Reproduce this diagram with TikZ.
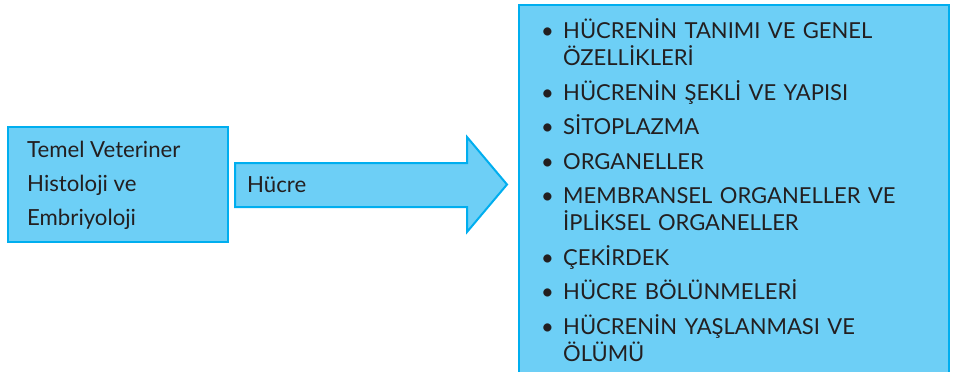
\documentclass[tikz,border=0pt]{standalone}
\usepackage{fontspec}
\setmainfont{Lato}
\definecolor{acikmavi}{HTML}{6DCFF6}
\definecolor{koyumavi}{HTML}{00AEEF}
\definecolor{yazi}{HTML}{231F20}
\tikzset{
	kutu/.style={draw=koyumavi, fill=acikmavi, line width=2pt},
	yazi/.style={text=yazi, font=\fontsize{22.2}{34}\selectfont},
}
% list with bullets at the left edge
\newenvironment{konulistesi}{%
	\begin{list}{\textbullet}{%
		\setlength{\leftmargin}{22pt}%
		\setlength{\labelwidth}{22pt}%
		\setlength{\labelsep}{0pt}%
		\setlength{\itemsep}{7.5pt}%
		\setlength{\parsep}{0pt}%
		\setlength{\topsep}{0pt}%
		\setlength{\partopsep}{0pt}%
		\renewcommand{\makelabel}[1]{##1\hfil}}%
	\fontsize{22}{27}\selectfont}{\end{list}}

\begin{document}
\begin{tikzpicture}[x=1pt, y=-1pt]
		\useasboundingbox (0,0) rectangle (954,372);
		\clip (0,0) rectangle (954,372);

		% left box (text anchored on its last line)
		\node [kutu, anchor=north west, minimum width=220pt, minimum height=115pt] (temel) at (7,126) {};
		\node [yazi, anchor=base west, inner sep=0pt, align=left] (temelyazi) at (27,225) {Temel Veteriner\\Histoloji ve\\Embriyoloji};

		% arrow
		\draw [kutu] (235,163) -- (467,163) -- (467,137) -- (507,184.5) -- (467,232) -- (467,207) -- (235,207) -- cycle;
		\node [yazi, anchor=base west, inner sep=0pt] (hucre) at (247,192) {Hücre};

		% right box, runs off the bottom
		\node [kutu, anchor=north west, minimum width=430pt, minimum height=390pt] (konular) at (518,4) {};
		\node [yazi, anchor=base west, inner sep=0pt, text width=390pt, align=left] (liste) at (541,12) {%
			\begin{konulistesi}
				\item HÜCRENİN TANIMI VE GENEL\newline ÖZELLİKLERİ
				\item HÜCRENİN ŞEKLİ VE YAPISI
				\item SİTOPLAZMA
				\item ORGANELLER
				\item MEMBRANSEL ORGANELLER VE\newline İPLİKSEL ORGANELLER
				\item ÇEKİRDEK
				\item HÜCRE BÖLÜNMELERİ
				\item HÜCRENİN YAŞLANMASI VE\newline ÖLÜMÜ
			\end{konulistesi}};
	\end{tikzpicture}
\end{document}
